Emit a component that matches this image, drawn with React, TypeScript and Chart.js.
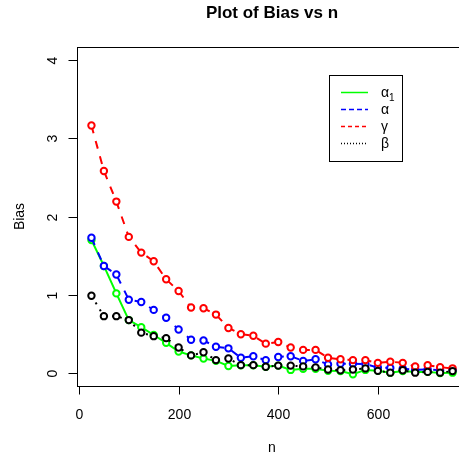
import React, { useEffect, useRef } from "react";
import { Chart, registerables } from "chart.js";

Chart.register(...registerables);

const nValues = [25, 50, 75, 100, 125, 150, 175, 200, 225, 250, 275, 300, 325, 350, 375, 400, 425, 450, 475, 500, 525, 550, 575, 600, 625, 650, 675, 700, 725, 750];
const alpha1Bias = [1.7, 1.37, 1.02, 0.68, 0.59, 0.49, 0.39, 0.28, 0.23, 0.19, 0.16, 0.095, 0.105, 0.105, 0.085, 0.1, 0.045, 0.06, 0.06, 0.035, 0.03, -0.01, 0.045, 0.035, 0.01, 0.03, 0.02, 0.02, 0.005, 0.01];
const alphaBias = [1.73, 1.37, 1.26, 0.94, 0.91, 0.81, 0.71, 0.56, 0.43, 0.42, 0.34, 0.32, 0.2, 0.22, 0.17, 0.21, 0.22, 0.16, 0.18, 0.115, 0.125, 0.125, 0.12, 0.075, 0.07, 0.06, 0.045, 0.05, 0.04, 0.045];
const gammaBias = [3.16, 2.58, 2.19, 1.74, 1.54, 1.43, 1.2, 1.05, 0.84, 0.83, 0.75, 0.58, 0.5, 0.48, 0.38, 0.4, 0.33, 0.3, 0.3, 0.2, 0.18, 0.17, 0.17, 0.135, 0.15, 0.135, 0.09, 0.105, 0.08, 0.065];
const betaBias = [0.99, 0.73, 0.73, 0.68, 0.52, 0.475, 0.45, 0.33, 0.23, 0.27, 0.17, 0.19, 0.106, 0.106, 0.085, 0.1, 0.1, 0.09, 0.077, 0.05, 0.04, 0.05, 0.064, 0.033, 0.01, 0.04, 0.01, 0.02, 0.01, 0.03];

const xTicks = [0, 200, 400, 600];
const yTicks = [0, 1, 2, 3, 4];
const titleText = "Plot of Bias vs n";
const xTitle = "n";
const yTitle = "Bias";
const legendNames = ["α", "α", "γ", "β"];
const legendSubs = ["1", "", "", ""];

const FONT = '"Liberation Sans", Arial, sans-serif';

const decorations = {
  id: "rDecorations",
  afterDraw(chart: any) {
    const ctx = chart.ctx as CanvasRenderingContext2D;
    const area = chart.chartArea;
    const xs = chart.scales.x;
    const ys = chart.scales.y;
    ctx.save();
    ctx.strokeStyle = "#000";
    ctx.fillStyle = "#000";
    ctx.lineWidth = 1;
    // box
    ctx.strokeRect(Math.round(area.left) + 0.5, Math.round(area.top) + 0.5, Math.round(area.right - area.left), Math.round(area.bottom - area.top));
    // x ticks
    ctx.font = `14px ${FONT}`;
    ctx.textAlign = "center";
    ctx.textBaseline = "alphabetic";
    const bottom = Math.round(area.bottom) + 0.5;
    for (const v of xTicks) {
      const px = Math.round(xs.getPixelForValue(v)) + 0.5;
      ctx.beginPath();
      ctx.moveTo(px, bottom);
      ctx.lineTo(px, bottom + 8);
      ctx.stroke();
      ctx.fillText(String(v), px, bottom + 32);
    }
    // y ticks
    const left = Math.round(area.left) + 0.5;
    for (const v of yTicks) {
      const py = Math.round(ys.getPixelForValue(v)) + 0.5;
      ctx.beginPath();
      ctx.moveTo(left - 9, py);
      ctx.lineTo(left, py);
      ctx.stroke();
      ctx.save();
      ctx.translate(57, py);
      ctx.rotate(-Math.PI / 2);
      ctx.fillText(String(v), 0, 0);
      ctx.restore();
    }
    // titles
    const cx = (area.left + area.right) / 2;
    ctx.font = `bold 17px ${FONT}`;
    ctx.fillText(titleText, cx, 18);
    ctx.font = `14px ${FONT}`;
    ctx.fillText(xTitle, cx, 452);
    ctx.save();
    ctx.translate(23.5, (area.top + area.bottom) / 2);
    ctx.rotate(-Math.PI / 2);
    ctx.fillText(yTitle, 0, 0);
    ctx.restore();
    // legend
    ctx.strokeRect(329.5, 75.5, 73, 86);
    const rows = [92.5, 109.5, 126.5, 143.5];
    const dashes = [[], [5, 3], [4, 3], [1, 2]];
    chart.data.datasets.forEach((ds: any, i: number) => {
      ctx.save();
      ctx.strokeStyle = ds.borderColor;
      ctx.lineWidth = 1.5;
      ctx.setLineDash(dashes[i]);
      ctx.beginPath();
      ctx.moveTo(341, rows[i]);
      ctx.lineTo(368, rows[i]);
      ctx.stroke();
      ctx.restore();
      ctx.textAlign = "left";
      ctx.font = `14px ${FONT}`;
      ctx.fillStyle = "#000";
      ctx.fillText(legendNames[i], 381, rows[i] + 4);
      if (legendSubs[i]) {
        const w = ctx.measureText(legendNames[i]).width;
        ctx.font = `10px ${FONT}`;
        ctx.fillText(legendSubs[i], 381 + w, rows[i] + 8);
      }
    });
    ctx.restore();
  },
};

export default function App() {
  const ref = useRef<HTMLCanvasElement | null>(null);
  useEffect(() => {
    if (!ref.current) return;
    const mk = (label: string, data: number[], color: string, dash: number[], order: number) => ({
      label,
      data: nValues.map((n, i) => ({ x: n, y: data[i] })),
      borderColor: color,
      backgroundColor: color,
      borderWidth: 2,
      borderDash: dash,
      pointRadius: 3.2,
      pointBorderWidth: 2,
      pointBorderColor: color,
      pointBackgroundColor: "#ffffff",
      pointStyle: "circle",
      tension: 0,
      fill: false,
      order,
    });
    const chart = new Chart(ref.current, {
      type: "line",
      data: {
        datasets: [
          mk("α1", alpha1Bias, "#00ff00", [], 4),
          mk("α", alphaBias, "#0000ff", [8, 8], 3),
          mk("γ", gammaBias, "#ff0000", [8, 8], 2),
          mk("β", betaBias, "#000000", [2, 6], 1),
        ],
      },
      options: {
        animation: false,
        responsive: false,
        devicePixelRatio: 1,
        layout: { padding: { left: 77, top: 47, right: 13, bottom: 72 } },
        scales: {
          x: { type: "linear", min: -4, max: 779, display: false },
          y: { type: "linear", min: -0.16, max: 4.16, display: false },
        },
        plugins: {
          legend: { display: false },
          title: { display: false },
          tooltip: { enabled: false },
        },
      },
      plugins: [decorations],
    } as any);
    return () => chart.destroy();
  }, []);
  return (
    <div style={{ position: "fixed", left: 0, top: 0, width: 459, height: 458, overflow: "hidden", background: "#fff" }}>
      <canvas ref={ref} width={480} height={458} style={{ display: "block" }} />
    </div>
  );
}
